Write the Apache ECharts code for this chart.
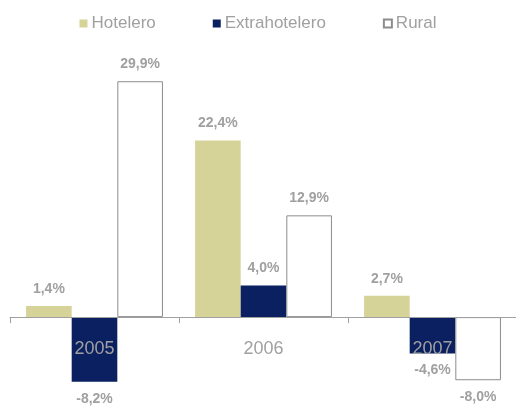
<!DOCTYPE html>
<html>
<head>
<meta charset="utf-8">
<script src="https://cdn.jsdelivr.net/npm/echarts@6/dist/echarts.min.js"></script>
<style>html,body{margin:0;padding:0;background:#fff}#c{width:516px;height:409px}</style>
</head>
<body>
<div id="c"></div>
<script>
var categories = ['2005', '2006', '2007'];
var hotelero = [1.4, 22.4, 2.7];
var extrahotelero = [-8.2, 4.0, -4.6];
var rural = [29.9, 12.9, -8.0];

function toData(arr) {
  return arr.map(function (v) {
    return { value: v, label: { position: v < 0 ? 'bottom' : 'top' } };
  });
}
var labelStyle = {
  show: true,
  distance: 10,
  color: '#a0a0a0',
  fontFamily: 'Liberation Sans, Arial, sans-serif',
  fontSize: 14,
  fontWeight: 'bold',
  formatter: function (p) { return p.value.toFixed(1).replace('.', ',') + '%'; }
};
var chart = echarts.init(document.getElementById('c'));
chart.setOption({
  animation: false,
  legend: {
    top: 10,
    left: 'center',
    itemWidth: 8,
    itemHeight: 8,
    itemGap: 57,
    icon: 'rect',
    textStyle: { color: '#a0a0a0', fontSize: 17, fontFamily: 'Liberation Sans, Arial, sans-serif', padding: [0, 0, 0, -1] },
    data: ['Hotelero', 'Extrahotelero', 'Rural']
  },
  grid: { left: 10, width: 507, top: 41, bottom: 13, containLabel: false, outerBoundsMode: 'none' },
  xAxis: {
    type: 'category',
    data: categories,
    z: 10,
    axisLine: { onZero: true, lineStyle: { color: '#a0a0a0', width: 1 } },
    axisTick: { show: true, length: 6, lineStyle: { color: '#a0a0a0' } },
    axisLabel: { margin: -56, color: '#a0a0a0', fontSize: 18, fontFamily: 'Liberation Sans, Arial, sans-serif', hideOverlap: false },
    splitLine: { show: false }
  },
  yAxis: {
    type: 'value',
    min: -10,
    max: 35,
    show: false,
    splitLine: { show: false }
  },
  series: [
    { name: 'Hotelero', type: 'bar', data: toData(hotelero), barGap: '0%', barCategoryGap: '19%',
      itemStyle: { color: '#d6d399' }, label: labelStyle },
    { name: 'Extrahotelero', type: 'bar', data: toData(extrahotelero),
      itemStyle: { color: '#0a2060' }, label: labelStyle },
    { name: 'Rural', type: 'bar', data: toData(rural),
      itemStyle: { color: '#ffffff', borderColor: '#8c8c8c', borderWidth: 1 }, label: labelStyle }
  ]
});
</script>
</body>
</html>
